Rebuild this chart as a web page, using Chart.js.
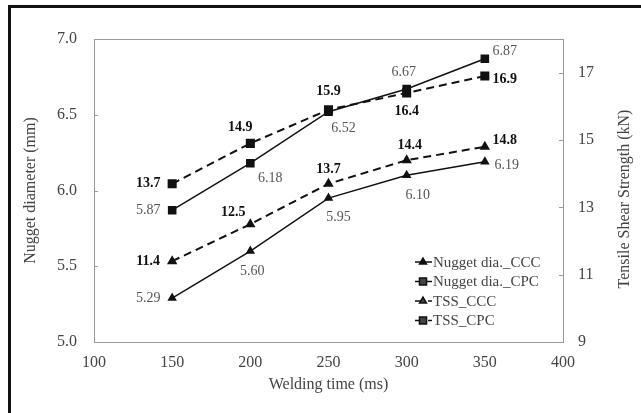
<!DOCTYPE html>
<html>
<head>
<meta charset="utf-8">
<script src="https://cdn.jsdelivr.net/npm/chart.js@4/dist/chart.umd.min.js"></script>
<style>
  body { margin: 0; background: #fff; }
  #wrap { position: relative; width: 641px; height: 413px; }
  #frame { position: absolute; left: 8px; top: 5px; right: 0; bottom: 0;
           border-top: 3px solid #111; border-left: 3px solid #111; }
  canvas { position: absolute; left: 0; top: 0; }
</style>
</head>
<body>
<div id="wrap">
  <div id="frame"></div>
  <canvas id="myChart" width="641" height="413"></canvas>
</div>
<script>
// data
var weldingTime = [150, 200, 250, 300, 350];
var nuggetCCC = [5.29, 5.60, 5.95, 6.10, 6.19];
var nuggetCPC = [5.87, 6.18, 6.52, 6.67, 6.87];
var tssCCC = [11.4, 12.5, 13.7, 14.4, 14.8];
var tssCPC = [13.7, 14.9, 15.9, 16.4, 16.9];
var tssTicks = [9, 11, 13, 15, 17];

// label offsets (px) for the value labels next to each point
var labelOffsets = [
    [[-24, 0], [2, 20], [10, 19], [11, 20], [22, 4]],
    [[-24, 0], [20, 15], [15, 17], [-3, -17], [20, -7]],
    [[-24, 0], [-17, -12], [0, -14], [3, -15], [20, -6]],
    [[-24, 0], [-10, -16], [0, -18], [0, 19], [20, 3]]
];

var serif = '"Liberation Serif", "Times New Roman", serif';
var textColor = '#444';

function pts(ys) {
    return weldingTime.map(function (x, i) { return { x: x, y: ys[i] }; });
}

var extras = {
    id: 'extras',
    beforeDatasetsDraw: function (chart) {
        var c = chart.ctx, a = chart.chartArea;
        c.save();
        c.strokeStyle = '#9a9a9a';
        c.lineWidth = 1;
        c.strokeRect(a.left + 0.5, a.top + 0.5, a.right - a.left, a.bottom - a.top);
        // small inward tick marks
        c.beginPath();
        chart.scales.y.ticks.forEach(function (t) {
            var yy = Math.round(chart.scales.y.getPixelForValue(t.value)) + 0.5;
            c.moveTo(a.left, yy); c.lineTo(a.left + 4, yy);
        });
        chart.scales.y1.ticks.forEach(function (t) {
            var yy = Math.round(chart.scales.y1.getPixelForValue(t.value)) + 0.5;
            c.moveTo(a.right - 4, yy); c.lineTo(a.right, yy);
        });
        c.stroke();
        c.restore();
    },
    afterDatasetsDraw: function (chart) {
        var c = chart.ctx, a = chart.chartArea;
        c.save();
        c.textAlign = 'center';
        c.textBaseline = 'middle';
        chart.data.datasets.forEach(function (ds, di) {
            var meta = chart.getDatasetMeta(di);
            var bold = ds.yAxisID === 'y1';
            c.font = (bold ? 'bold ' : '') + '14px ' + serif;
            c.fillStyle = bold ? '#111' : '#555';
            meta.data.forEach(function (p, i) {
                var v = ds.data[i].y;
                var txt = bold ? v.toFixed(1) : v.toFixed(2);
                var off = labelOffsets[di][i];
                c.fillText(txt, p.x + off[0], p.y + off[1]);
            });
        });

        // legend inside the plot
        var lx = 415, ly = 262;
        c.textAlign = 'left';
        c.font = '15px ' + serif;
        chart.data.datasets.forEach(function (ds, di) {
            var y = ly + di * 19.5;
            c.strokeStyle = '#111';
            c.lineWidth = 1.5;
            c.setLineDash(ds.borderDash || []);
            c.beginPath();
            c.moveTo(lx, y); c.lineTo(lx + 17, y);
            c.stroke();
            c.setLineDash([]);
            Chart.helpers.drawPoint(c, { pointStyle: ds.pointStyle, radius: ds.pointRadius, borderWidth: 1 }, lx + 8, y);
            c.fillStyle = textColor;
            c.fillText(ds.label, lx + 18, y + 1);
        });

        // right axis title, reading bottom to top
        c.save();
        c.translate(625, 199);
        c.rotate(-Math.PI / 2);
        c.textAlign = 'center';
        c.fillStyle = textColor;
        c.font = '16px ' + serif;
        c.fillText('Tensile Shear Strength (kN)', 0, 0);
        c.restore();
        c.restore();
    }
};

var ctx = document.getElementById('myChart').getContext('2d');
var chart = new Chart(ctx, {
    type: 'line',
    data: {
        datasets: [{
            label: 'Nugget dia._CCC',
            data: pts(nuggetCCC),
            yAxisID: 'y',
            borderColor: '#111', backgroundColor: '#111',
            borderWidth: 1.5, pointStyle: 'triangle', pointRadius: 4
        }, {
            label: 'Nugget dia._CPC',
            data: pts(nuggetCPC),
            yAxisID: 'y',
            borderColor: '#111', backgroundColor: '#111',
            borderWidth: 1.5, pointStyle: 'rect', pointRadius: 5
        }, {
            label: 'TSS_CCC',
            data: pts(tssCCC),
            yAxisID: 'y1',
            borderColor: '#111', backgroundColor: '#111',
            borderWidth: 2, borderDash: [8, 5], pointStyle: 'triangle', pointRadius: 4
        }, {
            label: 'TSS_CPC',
            data: pts(tssCPC),
            yAxisID: 'y1',
            borderColor: '#111', backgroundColor: '#111',
            borderWidth: 2, borderDash: [8, 5], pointStyle: 'rect', pointRadius: 5
        }]
    },
    options: {
        responsive: false,
        animation: false,
        layout: { padding: { left: 0, right: 0, top: 39, bottom: 0 } },
        plugins: { legend: { display: false }, tooltip: { enabled: false } },
        scales: {
            x: {
                type: 'linear', min: 100, max: 400,
                ticks: { stepSize: 50, padding: 11, color: textColor, font: { family: serif, size: 16 } },
                grid: { display: false, drawTicks: false },
                border: { display: false },
                title: { display: true, text: 'Welding time (ms)', color: textColor, padding: 19,
                         font: { family: serif, size: 16 } },
                afterFit: function (s) { s.height = 71; }
            },
            y: {
                position: 'left', min: 5, max: 7,
                ticks: { stepSize: 0.5, padding: 17, color: textColor, font: { family: serif, size: 16 },
                         callback: function (v) { return v.toFixed(1); } },
                grid: { display: false, drawTicks: false },
                border: { display: false },
                title: { display: true, text: 'Nugget diameter (mm)', color: textColor, padding: 21,
                         font: { family: serif, size: 16 } },
                afterFit: function (s) { s.width = 94; }
            },
            y1: {
                position: 'right', min: 9, max: 18,
                ticks: { padding: 15, color: textColor, font: { family: serif, size: 16 } },
                afterBuildTicks: function (s) {
                    s.ticks = tssTicks.map(function (v) { return { value: v }; });
                },
                grid: { display: false, drawTicks: false },
                border: { display: false },
                afterFit: function (s) { s.width = 78; }
            }
        }
    },
    plugins: [extras]
});
</script>
</body>
</html>
